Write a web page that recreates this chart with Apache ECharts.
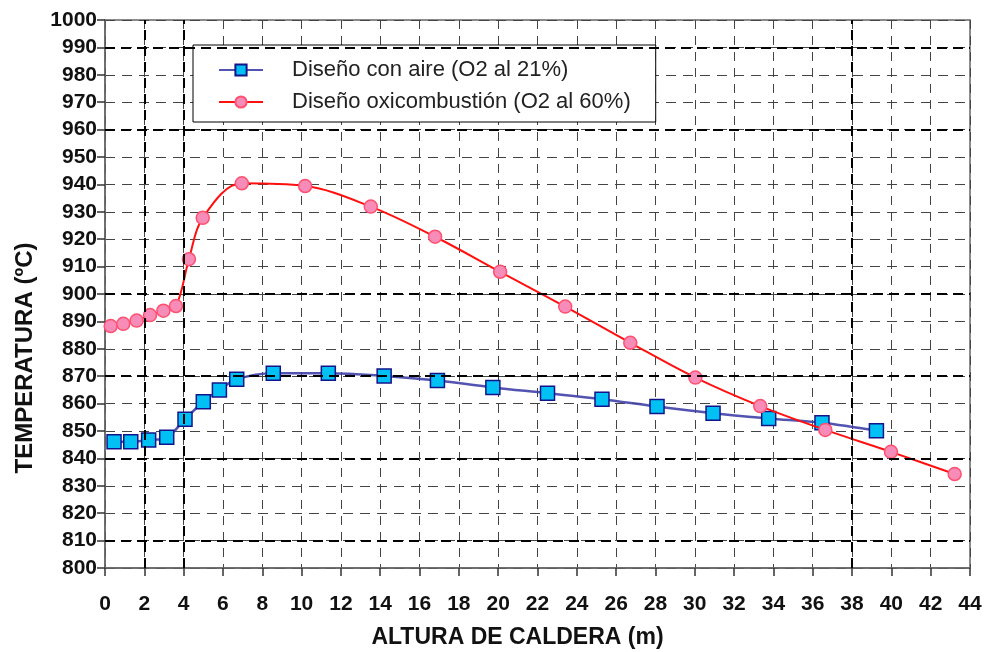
<!DOCTYPE html>
<html>
<head>
<meta charset="utf-8">
<script src="https://cdn.jsdelivr.net/npm/echarts@6/dist/echarts.min.js"></script>
<style>
  html, body { margin: 0; padding: 0; background: #fff; }
  #chart { width: 986px; height: 652px; }
</style>
</head>
<body>
<div id="chart"></div>
<script>
// Boiler height (m) vs. gas temperature (ºC) for two furnace designs
const seriesNames = ['Diseño con aire (O2 al 21%)', 'Diseño oxicombustión (O2 al 60%)'];

const aireX = [0.46, 1.31, 2.22, 3.14, 4.07, 5.0, 5.82, 6.70, 8.56, 11.36, 14.2, 16.91, 19.73, 22.51, 25.28, 28.08, 30.93, 33.76, 36.47, 39.24];
const aireT = [846.1, 846.1, 846.7, 847.7, 854.3, 860.7, 865.0, 868.9, 871.1, 871.1, 870.1, 868.4, 865.9, 863.8, 861.6, 858.9, 856.5, 854.6, 853.0, 850.1];

const oxiX = [0.29, 0.93, 1.61, 2.29, 2.97, 3.61, 4.27, 4.97, 6.96, 10.18, 13.52, 16.79, 20.10, 23.41, 26.72, 30.03, 33.33, 36.64, 39.98, 43.22];
const oxiT = [888.3, 889.1, 890.3, 892.3, 893.9, 895.6, 912.7, 927.8, 940.4, 939.4, 931.9, 920.9, 908.1, 895.4, 882.2, 869.5, 859.1, 850.4, 842.4, 834.3];

// Axis ranges and the heavier grid rows/columns
const xMin = 0, xMax = 44, xStep = 2;
const yMin = 800, yMax = 1000, yStep = 10;
const heavyRows = [810, 840, 870, 900, 960, 990];
const heavyCols = [2, 4, 38];

const font = '"Liberation Sans", Arial, sans-serif';
const pair = (xs, ys) => xs.map((x, i) => [x, ys[i]]);

const heavyLine = { color: '#000', width: 2, type: [10, 6] };

const chart = echarts.init(document.getElementById('chart'), null, { renderer: 'canvas' });
chart.setOption({
  animation: false,
  backgroundColor: '#fff',
  textStyle: { fontFamily: font },
  grid: {
    left: 105, right: 16, top: 20, bottom: 84,
    outerBoundsMode: 'none',
    containLabel: false,
    show: true, borderColor: '#666', borderWidth: 1.5, backgroundColor: 'transparent'
  },
  legend: {
    orient: 'vertical',
    left: 193, top: 45,
    padding: [14, 25, 9, 25],
    itemGap: 10,
    itemWidth: 44, itemHeight: 14,
    backgroundColor: '#fff',
    borderColor: '#000', borderWidth: 1,
    textStyle: { fontFamily: font, fontSize: 22, color: '#222', lineHeight: 20, padding: [0, 0, 0, 24] },
    data: seriesNames
  },
  xAxis: {
    type: 'value', min: xMin, max: xMax, interval: xStep,
    name: 'ALTURA DE CALDERA (m)', nameLocation: 'middle', nameGap: 58,
    nameTextStyle: { fontFamily: font, fontSize: 23, fontWeight: 'bold', color: '#111', padding: [0, 40, 0, 0] },
    axisLine: { show: true, onZero: false, lineStyle: { color: '#666', width: 1.5 } },
    axisTick: { show: true, length: 8, lineStyle: { color: '#333', width: 1.5 } },
    axisLabel: { margin: 26, fontFamily: font, fontSize: 21, fontWeight: 'bold', color: '#111' },
    splitLine: { show: true, lineStyle: { color: '#444', width: 1, type: [9, 7] } }
  },
  yAxis: {
    type: 'value', min: yMin, max: yMax, interval: yStep,
    name: 'TEMPERATURA (ºC)', nameLocation: 'middle', nameGap: 68,
    nameTextStyle: { fontFamily: font, fontSize: 24, fontWeight: 'bold', color: '#111', padding: [0, 128, 0, 0] },
    axisLine: { show: true, lineStyle: { color: '#666', width: 1.5 } },
    axisTick: { show: true, length: 8, lineStyle: { color: '#333', width: 1.5 } },
    axisLabel: { margin: 8, fontFamily: font, fontSize: 21, fontWeight: 'bold', color: '#111', formatter: v => String(v) },
    splitLine: { show: true, lineStyle: { color: '#444', width: 1, type: [10, 7] } }
  },
  series: [
    {
      name: 'grid-heavy',
      type: 'line',
      data: [],
      silent: true,
      z: 1,
      markLine: {
        silent: true,
        symbol: 'none',
        label: { show: false },
        lineStyle: heavyLine,
        animation: false,
        data: heavyRows.map(v => ({ yAxis: v })).concat(heavyCols.map(v => ({ xAxis: v })))
      }
    },
    {
      name: seriesNames[0],
      type: 'line',
      data: pair(aireX, aireT),
      smooth: 0.35,
      symbol: 'rect',
      symbolSize: 14,
      z: 3,
      lineStyle: { color: '#4040a8', width: 2.5, opacity: 0.9 },
      itemStyle: { color: '#00c0f4', borderColor: '#14148a', borderWidth: 1.5 }
    },
    {
      name: seriesNames[1],
      type: 'line',
      data: pair(oxiX, oxiT),
      smooth: 0.35,
      symbol: 'circle',
      symbolSize: 13,
      z: 4,
      lineStyle: { color: '#ff1010', width: 2 },
      itemStyle: { color: '#f78cb8', borderColor: '#ff5070', borderWidth: 1.5 }
    }
  ]
});
</script>
</body>
</html>
